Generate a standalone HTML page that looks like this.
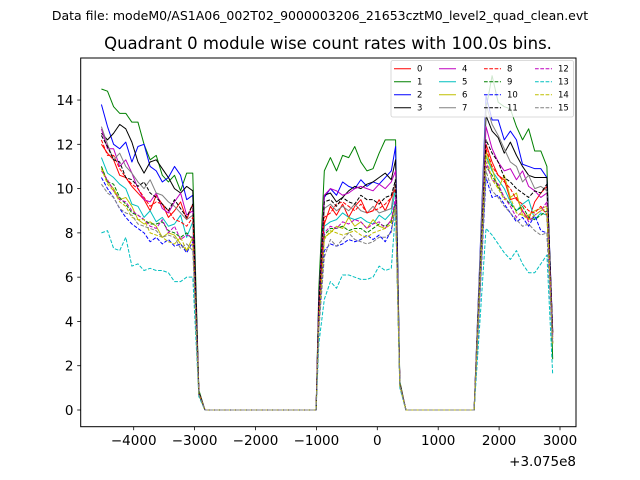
<!DOCTYPE html>
<html><head><meta charset="utf-8"><style>
body{margin:0;background:#fff;}
svg{display:block;font-family:"DejaVu Sans","Liberation Sans",sans-serif;}
</style></head><body>
<svg id="chart" width="640" height="480" viewBox="0 0 640 480" xmlns="http://www.w3.org/2000/svg">
<rect width="640" height="480" fill="#fff"/>
<text x="320" y="20" font-size="12.5" text-anchor="middle">Data file: modeM0/AS1A06_002T02_9000003206_21653cztM0_level2_quad_clean.evt</text>
<text x="328" y="49" font-size="16.5" text-anchor="middle">Quadrant 0 module wise count rates with 100.0s bins.</text>
<g id="plot"></g>
<rect x="80.7" y="58" width="495.3" height="368.7" fill="none" stroke="#000" stroke-width="1"/>
<g id="xt"></g>
<g id="yt"></g>
<text x="576" y="466" font-size="13.5" text-anchor="end">+3.075e8</text>
<g id="legend"></g>
</svg>
<script>
const times=[-4530,-4430,-4330,-4230,-4130,-4030,-3930,-3830,-3730,-3630,-3530,-3430,-3330,-3230,-3130,-3030,-2930,-2830,-1005,-960,-870,-770,-670,-570,-470,-370,-270,-170,-70,30,130,230,300,370,470,1590,1785,1885,1985,2085,2185,2285,2385,2485,2585,2685,2785,2880];
const s0=[12.0,11.6,11.3,10.6,10.5,10.1,9.8,9.5,9.0,9.7,9.3,8.7,9.0,9.4,8.6,9.3,0.8,0,0,4.5,8.4,9.2,8.8,9.3,8.7,9.2,9.5,8.9,9.0,9.5,9.0,9.6,10.2,1.2,0,0,12.0,11.2,10.6,10.4,9.5,9.6,9.0,8.6,9.4,9.8,10.1,3.5];
const s1=[14.5,14.4,13.7,13.4,13.4,13.0,13.0,12.0,11.3,11.5,10.6,10.3,10.6,9.9,10.7,10.7,0.9,0,0,5.5,10.8,11.4,10.8,11.5,11.4,11.9,11.2,10.8,10.9,11.6,12.2,12.2,12.2,1.3,0,0,13.6,15.1,13.9,13.7,13.6,12.8,12.2,12.7,11.7,11.7,11.0,2.3];
const s2=[13.8,12.8,12.0,11.8,12.1,11.2,11.9,12.0,11.0,10.8,10.3,10.5,11.0,10.6,9.5,9.7,0.8,0,0,5.0,9.6,10.0,9.7,10.3,10.1,10.0,10.4,10.1,10.3,10.2,10.5,10.8,11.9,1.2,0,0,14.2,13.1,13.1,12.2,12.6,12.2,11.1,11.0,10.9,10.9,10.5,3.6];
const s3=[12.5,12.2,12.5,12.9,12.7,12.1,11.2,10.7,11.2,11.3,10.9,10.5,10.0,9.8,10.1,9.9,0.8,0,0,5.0,9.7,9.8,9.4,9.6,9.9,10.1,10.0,10.2,10.3,10.5,10.7,10.4,11.3,1.2,0,0,13.3,12.6,12.3,11.6,12.1,11.5,11.0,10.6,10.5,10.5,10.5,3.5];
const s4=[12.7,11.8,11.8,11.0,11.3,10.7,10.0,9.5,9.4,9.8,9.1,8.9,9.4,9.8,8.8,9.0,0.8,0,0,4.8,9.7,10.0,9.9,9.7,9.8,10.0,10.1,10.0,9.9,10.2,10.0,10.3,10.8,1.2,0,0,12.8,11.8,11.2,10.8,10.9,10.4,10.8,10.1,9.9,9.6,9.8,3.4];
const s5=[11.4,10.7,10.5,10.2,10.0,9.3,9.2,8.7,9.0,8.5,8.7,8.3,8.4,8.8,7.8,8.5,0.7,0,0,4.3,8.3,8.5,8.6,8.9,8.7,8.6,8.7,8.5,8.4,8.8,8.6,8.9,10.0,1.1,0,0,11.5,10.8,10.4,10.0,9.4,9.0,9.3,9.5,8.6,8.9,8.8,3.2];
const s6=[11.0,10.3,10.0,9.5,9.6,9.2,8.6,8.4,8.5,8.3,7.8,8.0,7.9,7.5,7.2,7.8,0.7,0,0,4.0,7.8,8.0,8.3,8.2,8.7,8.3,8.5,8.2,8.6,8.3,8.2,8.6,9.3,1.1,0,0,11.7,10.9,10.0,10.6,9.6,9.8,8.8,8.8,9.0,9.1,9.2,3.0];
const s7=[12.8,12.0,11.3,11.6,11.0,10.7,10.3,10.0,10.4,9.8,9.7,9.4,9.2,8.9,8.6,8.8,0.8,0,0,4.6,9.1,9.3,9.0,9.2,9.0,9.3,9.0,8.9,9.2,8.9,9.0,9.1,10.5,1.2,0,0,13.8,12.9,12.4,11.8,11.2,11.0,10.3,10.6,10.0,10.1,9.9,3.4];
const s8=[12.2,11.5,11.5,10.9,10.5,10.2,10.0,9.6,9.2,9.4,9.3,9.0,8.6,8.5,8.3,8.7,0.8,0,0,4.5,8.7,8.9,9.3,9.4,9.2,9.0,9.3,8.9,9.0,9.1,9.3,9.6,10.0,1.2,0,0,11.8,11.0,10.6,10.3,10.0,9.5,9.3,9.0,8.9,9.2,8.8,3.3];
const s9=[11.0,10.3,10.2,9.6,9.3,8.9,8.8,8.6,8.4,8.4,8.5,8.1,8.0,7.8,8.0,7.7,0.7,0,0,4.0,7.9,8.2,8.2,8.3,8.1,8.2,8.2,8.0,8.2,8.4,8.3,8.5,9.4,1.1,0,0,11.0,10.6,10.1,9.6,9.3,9.0,9.2,8.7,8.6,8.8,9.0,3.0];
const s10=[10.5,10.0,9.6,9.1,8.7,8.4,8.2,8.0,7.6,7.8,7.5,7.7,7.4,7.5,7.1,7.6,0.7,0,0,3.8,7.2,7.5,7.4,7.5,7.7,7.6,7.7,7.9,7.7,7.9,7.6,8.1,9.3,1.1,0,0,10.5,9.6,9.7,9.3,8.9,8.5,8.7,8.3,8.8,8.1,8.0,3.0];
const s11=[12.4,11.9,11.3,11.2,10.5,10.4,10.1,10.3,9.8,9.6,9.3,9.0,9.5,9.1,8.7,9.3,0.8,0,0,4.7,9.4,9.5,9.2,9.6,9.4,9.3,9.7,9.5,9.5,9.3,9.6,9.7,10.4,1.2,0,0,12.2,11.6,11.2,10.5,10.3,10.0,9.8,9.6,9.9,9.8,10.2,3.5];
const s12=[10.8,10.4,9.9,9.5,9.4,9.0,8.8,8.6,8.3,8.2,8.6,8.0,8.3,7.7,7.9,7.8,0.7,0,0,4.1,8.0,8.3,8.2,8.5,8.4,8.6,8.5,8.2,8.4,8.5,8.2,8.6,9.6,1.1,0,0,11.2,10.4,10.2,9.6,9.2,8.7,9.0,8.5,8.8,9.0,9.4,3.1];
const s13=[8.0,8.1,7.3,7.2,7.8,6.5,6.6,6.3,6.4,6.3,6.3,6.2,5.8,5.8,6.0,6.0,0.6,0,0,3.0,5.0,5.8,5.5,6.1,6.1,6.0,5.9,5.9,6.0,6.5,6.3,6.4,9.0,1.0,0,0,8.2,7.9,7.5,7.1,6.8,7.2,6.6,6.2,6.2,6.6,7.0,1.6];
const s14=[10.9,10.2,9.9,9.4,9.2,8.7,8.6,8.6,8.0,7.9,7.8,7.6,7.5,7.8,7.2,7.5,0.7,0,0,3.9,7.7,8.1,8.0,7.9,8.0,8.1,7.9,7.8,8.0,8.1,8.2,8.4,9.2,1.1,0,0,11.5,10.4,10.0,9.5,9.6,8.9,8.8,8.6,8.8,9.0,9.1,3.0];
const s15=[10.2,9.8,9.6,9.1,8.9,8.8,8.4,8.3,8.2,8.1,7.8,7.9,7.8,7.3,7.5,7.2,0.7,0,0,3.6,6.9,7.7,7.4,7.7,8.0,7.7,7.6,7.5,7.6,7.8,7.8,8.0,9.2,1.1,0,0,10.8,9.9,9.6,9.2,8.9,8.6,8.3,8.4,8.1,7.9,8.0,3.0];
const xTicks=[-4000,-3000,-2000,-1000,0,1000,2000,3000];
const yTicks=[0,2,4,6,8,10,12,14];
const seriesNames=["0","1","2","3","4","5","6","7","8","9","10","11","12","13","14","15"];

const series=[s0,s1,s2,s3,s4,s5,s6,s7,s8,s9,s10,s11,s12,s13,s14,s15];
const colors=["#ff0000","#008000","#0000ff","#000000","#bf00bf","#00bfbf","#bfbf00","#808080"];
const NS="http://www.w3.org/2000/svg";
function xs(t){return 377.3+t*0.0609;}
function ys(v){return 410-v*22.14;}
function mk(tag,attrs,parent){const e=document.createElementNS(NS,tag);for(const k in attrs)e.setAttribute(k,attrs[k]);parent.appendChild(e);return e;}
const plot=document.getElementById('plot');
series.forEach((s,i)=>{
  const d=s.map((v,j)=>(j?'L':'M')+xs(times[j]).toFixed(2)+','+ys(v).toFixed(2)).join('');
  const p=mk('path',{d:d,fill:'none',stroke:colors[i%8],'stroke-width':1,'stroke-dasharray':i>=8?'3.7,1.6':'none','stroke-linejoin':'round'},plot);
  
  
});
const xt=document.getElementById('xt');
xTicks.forEach(t=>{
  const x=xs(t);
  const l=mk('line',{x1:x,x2:x,y1:426.7,y2:430.2,stroke:'#000','stroke-width':0.8},xt);
  
  
  const tx=mk('text',{x:x,y:445,'font-size':13.5,'text-anchor':'middle'},xt);
  tx.textContent=(t<0?'\u2212'+(-t):String(t));
  
  
});
const yt=document.getElementById('yt');
yTicks.forEach(v=>{
  const y=ys(v);
  const l=mk('line',{x1:77.2,x2:80.7,y1:y,y2:y,stroke:'#000','stroke-width':0.8},yt);
  
  
  const tx=mk('text',{x:73.5,y:y+5,'font-size':13.5,'text-anchor':'end'},yt);
  tx.textContent=String(v);
  
  
});
const lg=document.getElementById('legend');
const box=mk('rect',{x:391,y:60.5,width:182.5,height:56.5,rx:2,fill:'#fff','fill-opacity':0.8,stroke:'#d0d0d0','stroke-width':0.8},lg);


const colX=[394,439,484,535];
const rowY=[68.7,81.7,94.7,107.7];
seriesNames.forEach((n,i)=>{
  const c=Math.floor(i/4), r=i%4;
  const g=mk('g',{},lg);
  
  
  mk('line',{x1:colX[c],x2:colX[c]+17,y1:rowY[r],y2:rowY[r],stroke:colors[i%8],'stroke-width':1,'stroke-dasharray':i>=8?'3.7,1.6':'none'},g);
  const t=mk('text',{x:colX[c]+23,y:rowY[r]+3,'font-size':8.5},g);
  t.textContent=n;
});
</script>
</body></html>
